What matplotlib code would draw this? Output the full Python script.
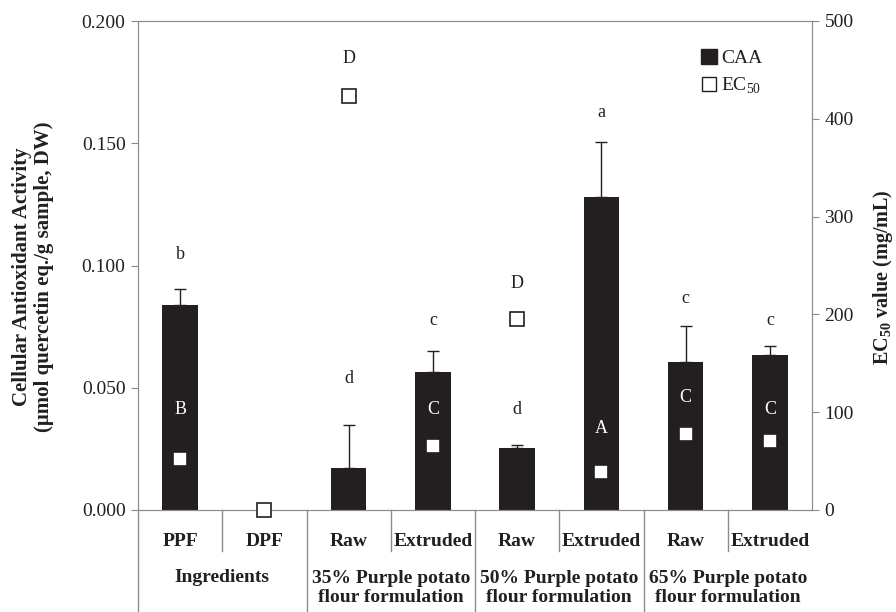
import numpy as np
import matplotlib
matplotlib.use("Agg")
import matplotlib.pyplot as plt
from matplotlib.patches import Patch
from matplotlib.lines import Line2D

plt.rcParams['font.family'] = ['Liberation Serif', 'DejaVu Serif']
plt.rcParams['mathtext.fontset'] = 'custom'
plt.rcParams['mathtext.rm'] = 'Liberation Serif'
plt.rcParams['mathtext.bf'] = 'Liberation Serif:bold'

# %% Data
samples = ["PPF", "DPF", "Raw", "Extruded", "Raw", "Extruded", "Raw", "Extruded"]
groups = ["Ingredients",
          "35% Purple potato\nflour formulation",
          "50% Purple potato\nflour formulation",
          "65% Purple potato\nflour formulation"]
caa = [0.0838, 0.0, 0.0173, 0.0566, 0.0255, 0.1279, 0.0604, 0.0633]
caa_err = [0.0066, 0.0, 0.0175, 0.0085, 0.0011, 0.0227, 0.0149, 0.0039]
ec50 = [52, 0, 423, 65, 195, 39, 78, 71]

# significance letters (CAA lower case, EC50 upper case) and label heights on CAA axis
caa_letters = ["b", "", "d", "c", "d", "a", "c", "c"]
caa_letter_y = [0.1043, 0, 0.0536, 0.0777, 0.0413, 0.1624, 0.0867, 0.0777]
ec_letters = ["B", "", "D", "C", "D", "A", "C", "C"]
ec_letter_y = [0.0409, 0, 0.1845, 0.0409, 0.0928, 0.0335, 0.0462, 0.0409]

# %% Plot
dark = "#231f20"
grey = "#8c8c8c"
fig = plt.figure(figsize=(8.96, 6.12), dpi=100)
ax = fig.add_axes([138 / 896, 102 / 612, 674 / 896, 489 / 612])
x = np.arange(len(samples))

ax.bar(x, caa, width=0.42, color=dark, zorder=2)
ax.errorbar(x, caa, yerr=[np.zeros(len(caa)), caa_err], fmt="none",
            ecolor=dark, elinewidth=1, capsize=4, capthick=1, zorder=3)

ax.set_xlim(-0.5, len(samples) - 0.5)
ax.set_ylim(0, 0.2)
ax.set_yticks(np.arange(0, 0.201, 0.05))
ax.set_yticklabels([f"{v:.3f}" for v in np.arange(0, 0.201, 0.05)])
ax.set_xticks([])
for s in ax.spines.values():
    s.set_color(grey)
ax.tick_params(axis="y", direction="out", length=5, color=grey, labelsize=14,
               labelcolor=dark, pad=4)
ax.set_ylabel("Cellular Antioxidant Activity\n(\u03bcmol quercetin eq./g sample, DW)",
              fontsize=15, fontweight="bold", color=dark, linespacing=1.1)
ax.yaxis.set_label_coords(-0.125, 0.478)

ax2 = ax.twinx()
ax2.set_ylim(0, 500)
ax2.set_yticks(range(0, 501, 100))
for s in ax2.spines.values():
    s.set_color(grey)
ax2.tick_params(axis="y", direction="out", length=5, color=grey, labelsize=14,
                labelcolor=dark, pad=4)
ax2.plot(x, ec50, linestyle="none", marker="s", markersize=9.5,
         markerfacecolor="white", markeredgecolor=dark, markeredgewidth=1.2,
         clip_on=False, zorder=4)
ax2.set_ylabel("EC$_{\\mathbf{50}}$ value (mg/mL)", fontsize=14.5, fontweight="bold",
               color=dark)
ax2.yaxis.set_label_coords(1.087, 0.476)

# letters
for i in range(len(samples)):
    for txt, yv in ((caa_letters[i], caa_letter_y[i]), (ec_letters[i], ec_letter_y[i])):
        if not txt:
            continue
        col = "white" if yv < caa[i] else dark
        ax2.text(x[i], yv * 2500, txt, ha="center", va="center",
                 fontsize=13, color=col, zorder=5)

# category labels
tr = ax.get_xaxis_transform()
for i, lab in enumerate(samples):
    ax.text(x[i], -0.0634, lab, transform=tr, ha="center", va="center",
            fontsize=14, fontweight="bold", color=dark)
for g, lab in enumerate(groups):
    yv = -0.138 if "\n" not in lab else -0.160
    ax.text(2 * g + 0.5, yv, lab, transform=tr, ha="center", va="center",
            fontsize=14, fontweight="bold", color=dark, linespacing=1.12)

# separators below axis
for b in np.arange(-0.5, len(samples) - 0.5, 1.0):
    long_line = (b + 0.5) % 2 == 0
    ax.plot([b, b], [0, -0.209 if long_line else -0.084], transform=tr,
            color=grey, linewidth=1, clip_on=False)

handles = [Patch(facecolor=dark, edgecolor=dark, label="CAA"),
           Line2D([], [], linestyle="none", marker="s", markersize=10,
                  markerfacecolor="white", markeredgecolor=dark, label="EC$_{50}$")]
leg = ax2.legend(handles=handles, loc="upper left", bbox_to_anchor=(701 / 896, 1 - 49 / 612),
                 bbox_transform=fig.transFigure, frameon=False, fontsize=14,
                 handlelength=0.8, handleheight=0.8, handletextpad=0.25,
                 labelspacing=0.45, borderpad=0, borderaxespad=0)
for t in leg.get_texts():
    t.set_color(dark)

fig.savefig("out.png", dpi=100)
